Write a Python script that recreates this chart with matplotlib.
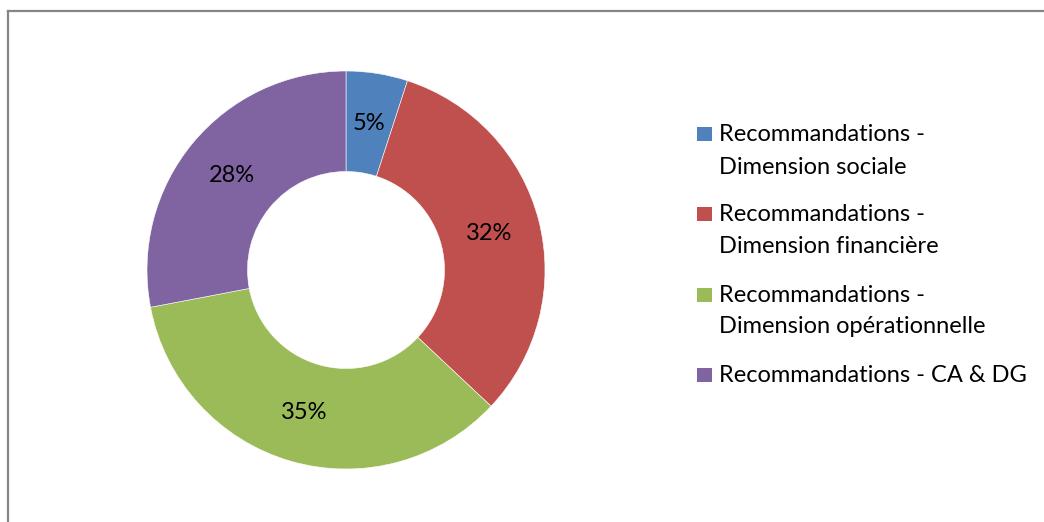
import matplotlib
matplotlib.use("Agg")
import matplotlib.pyplot as plt
from matplotlib.lines import Line2D
from matplotlib.patches import Rectangle

# data
categories = ["Recommandations -\nDimension sociale",
              "Recommandations -\nDimension financière",
              "Recommandations -\nDimension opérationnelle",
              "Recommandations - CA & DG"]
shares = [5, 32, 35, 28]
colors = ["#4F81BD", "#C0504D", "#9BBB59", "#8064A2"]

plt.rcParams['font.family'] = ['Lato', 'DejaVu Sans']
W, H = 1044, 522
fig = plt.figure(figsize=(W / 100, H / 100), dpi=100)

# donut, centre (346,270) px, radius 199 px
cx, cy, r = 346, 270, 199
ax = fig.add_axes([(cx - r) / W, (H - cy - r) / H, 2 * r / W, 2 * r / H])
wedges, texts, autotexts = ax.pie(
    shares, colors=colors, startangle=90, counterclock=False,
    radius=1, wedgeprops=dict(width=0.505, edgecolor='white', linewidth=0.4),
    autopct=lambda p: f"{p:.0f}%", pctdistance=0.745,
    textprops=dict(fontsize=17, color='black'))
ax.set_xlim(-1, 1)
ax.set_ylim(-1, 1)
ax.set_aspect('equal')
ax.axis('off')

# legend drawn by hand so the square lines up with the first text line
baselines = [[141, 173.5], [221, 253.3], [301.7, 333.3], [381.7]]
for i, lab in enumerate(categories):
    lines = lab.split("\n")
    b0 = baselines[i][0]
    fig.patches.append(Rectangle(((697.3) / W, (H - b0) / H), 14.5 / W, 14 / H,
                                 transform=fig.transFigure, facecolor=colors[i],
                                 edgecolor='none'))
    for j, t in enumerate(lines):
        fig.text(719 / W, (H - baselines[i][j]) / H, t, fontsize=17,
                 va='baseline', ha='left', color='black')

# chart area border (only top and left visible)
fig.add_artist(Line2D([8 / W, 1], [1 - 10.5 / H, 1 - 10.5 / H], transform=fig.transFigure,
                      color='#868686', linewidth=1.6))
fig.add_artist(Line2D([8 / W, 8 / W], [0, 1 - 10.5 / H], transform=fig.transFigure,
                      color='#868686', linewidth=1.6))

fig.savefig("out.png", dpi=100, facecolor='white')
